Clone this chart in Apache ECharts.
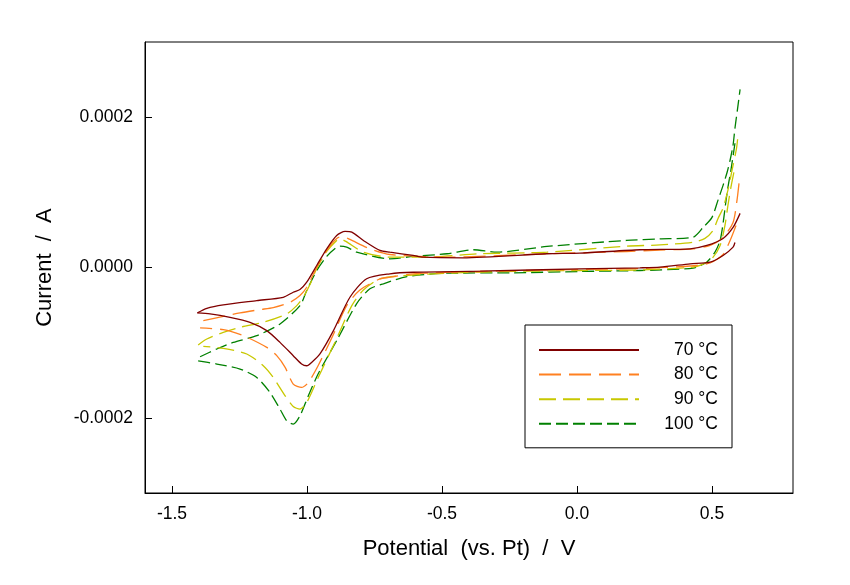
<!DOCTYPE html>
<html>
<head>
<meta charset="utf-8">
<script src="https://cdn.jsdelivr.net/npm/echarts@6/dist/echarts.min.js"></script>
<style>
html,body{margin:0;padding:0;background:#fff;}
#c{width:850px;height:585px;}
</style>
</head>
<body>
<div id="c"></div>
<script>
// Potential (V) and current (µA); forward (f) and reverse (r) sweeps
const pot70f = [-1.406,-1.371,-1.310,-1.186,-1.088,-1.051,-1.026,-1.001,-0.964,-0.927,-0.890,-0.859,-0.834,-0.791,-0.730,-0.693,-0.607,-0.570,-0.422,-0.111,0.011,0.233,0.419,0.481,0.541,0.578,0.604];
const cur70f = [-60.4,-54.3,-49.7,-44,-39.6,-32.9,-29.3,-19.6,2.7,24.9,42.7,48,47.1,36,22.7,20.4,16,13.7,12.9,18.3,19.1,23.6,24.9,29.3,38.7,53.3,72];
const pot70r = [0.585,0.578,0.541,0.493,0.419,0.307,0.233,0.011,-0.359,-0.607,-0.693,-0.779,-0.841,-0.902,-0.952,-0.983,-1.001,-1.020,-1.051,-1.100,-1.149,-1.211,-1.285,-1.359,-1.406];
const cur70r = [33.3,27.1,16,7.1,4.9,0.4,-0.4,-1.7,-4.9,-6.3,-8.4,-15,-39.6,-84,-115,-126.3,-130.7,-128.4,-117.3,-99.6,-84,-72.9,-66.3,-61.7,-60.4];

const pot80f = [-1.384,-1.310,-1.248,-1.174,-1.125,-1.063,-1.026,-1.001,-0.964,-0.927,-0.890,-0.867,-0.841,-0.767,-0.693,-0.481,-0.111,0.184,0.307,0.430,0.493,0.541,0.578,0.592,0.600];
const cur80f = [-70.7,-64.9,-60.4,-56,-53.3,-46.3,-37.3,-26.3,0,22.7,38.7,41.3,37.3,24.9,17.3,13.7,18.3,21.3,23.3,24.9,29.3,40,60,88,112];
const pot80r = [0.589,0.567,0.541,0.493,0.419,0.233,0.011,-0.359,-0.607,-0.693,-0.730,-0.804,-0.853,-0.906,-0.958,-0.995,-1.020,-1.051,-1.081,-1.112,-1.149,-1.236,-1.310,-1.396];
const cur80r = [56,36,17.3,6,2,-1.3,-2.7,-5.3,-8.4,-12.9,-15.1,-30,-50.7,-92,-130,-152.9,-159.6,-155.1,-132.9,-117.3,-106.3,-90.7,-82.7,-80.4];

const pot90f = [-1.403,-1.371,-1.310,-1.248,-1.162,-1.075,-1.038,-1.014,-0.989,-0.964,-0.927,-0.890,-0.878,-0.856,-0.791,-0.693,-0.570,-0.359,-0.111,0.184,0.307,0.430,0.474,0.504,0.522,0.541,0.559,0.578,0.591,0.597];
const cur90f = [-103.1,-95.1,-86.3,-79.6,-72.9,-61.7,-50.7,-39.6,-22.7,-1.3,21.3,36,38.3,34.7,20.4,13.7,13.7,18.3,20.4,28.4,30,33.7,38.7,49.3,65,79,103,136,159,178.3];
const pot90r = [0.581,0.570,0.559,0.548,0.530,0.500,0.456,0.419,0.233,0.011,-0.359,-0.607,-0.730,-0.791,-0.834,-0.896,-0.958,-1.001,-1.026,-1.051,-1.081,-1.125,-1.162,-1.223,-1.310,-1.384];
const cur90r = [126.7,106.7,82.7,56,29.3,12,2.7,0,-3.3,-4,-6,-10,-15.1,-30,-50.7,-99,-146,-179.6,-188.4,-184.9,-170.7,-146.3,-130.7,-115.1,-107.6,-104.9];

const pot100f = [-1.396,-1.334,-1.273,-1.186,-1.100,-1.026,-1.001,-0.964,-0.927,-0.896,-0.878,-0.853,-0.816,-0.693,-0.607,-0.481,-0.385,-0.296,-0.111,0.184,0.307,0.430,0.467,0.500,0.522,0.541,0.556,0.567,0.578,0.585,0.594,0.604];
const cur100f = [-118.7,-108.4,-99.6,-90.7,-75.1,-50.7,-30.7,-4,14.7,25.3,28.4,27.1,20.4,11.6,14.7,18.3,23.6,20.4,28,36,38,40.4,53.3,66.7,89.3,109.3,126.7,142.7,162.7,185.3,209.3,237];
const pot100r = [0.585,0.570,0.559,0.552,0.541,0.530,0.511,0.480,0.430,0.233,0.011,-0.237,-0.481,-0.630,-0.717,-0.767,-0.816,-0.887,-0.958,-0.995,-1.026,-1.051,-1.075,-1.100,-1.137,-1.186,-1.248,-1.334,-1.406];
const cur100r = [165.3,129.3,106.7,89.3,58.7,36,20.4,7.1,-0.7,-4,-5.3,-7.1,-7.6,-12,-21.7,-28.4,-48,-95.3,-141,-170.7,-197.3,-208.4,-204,-188.4,-166.3,-146.3,-135.1,-128.4,-124];

const legendNames = ['70 °C','80 °C','90 °C','100 °C'];
const xTicks = [-1.5,-1.0,-0.5,0.0,0.5];
const yTicks = [-0.0002,0,0.0002];

const uA = 1e-6;
function pts(p,c){ return p.map((v,i)=>[v, c[i]*uA]); }

const FONT = 'Liberation Sans, Arial, sans-serif';
const styles = {
  '70 °C':  {color:'#800000', type:'solid'},
  '80 °C':  {color:'#ff8020', type:[22,8]},
  '90 °C':  {color:'#c8c800', type:[17,7]},
  '100 °C': {color:'#008000', type:[12,5]}
};
const curves = [
  ['100 °C', pot100f, cur100f, pot100r, cur100r],
  ['90 °C', pot90f, cur90f, pot90r, cur90r],
  ['80 °C', pot80f, cur80f, pot80r, cur80r],
  ['70 °C', pot70f, cur70f, pot70r, cur70r]
];
const series = [];
curves.forEach(([name,pf,cf,pr,cr])=>{
  const st = styles[name];
  [[pf,cf],[pr,cr]].forEach(([p,c])=>{
    series.push({
      name, type:'line', data: pts(p,c), symbol:'none', showSymbol:false, smooth:0.25,
      color: st.color,
      lineStyle:{color:st.color, width:1.3, type:st.type},
      animation:false
    });
  });
});

const chart = echarts.init(document.getElementById('c'), null, {renderer:'canvas'});
chart.setOption({
  backgroundColor:'#fff',
  animation:false,
  grid:{left:145, right:57, top:42, bottom:92, show:true, borderColor:'#000', borderWidth:1, backgroundColor:'transparent'},
  xAxis:{
    type:'value', min:-1.6, max:0.8,
    name:'Potential  (vs. Pt)  /  V', nameLocation:'middle', nameGap:45,
    nameTextStyle:{fontFamily:FONT, fontSize:22, color:'#000'},
    axisLine:{show:true, onZero:false, lineStyle:{color:'#000', width:1}},
    axisTick:{show:true, inside:true, length:7, customValues:xTicks, lineStyle:{color:'#000'}},
    axisLabel:{customValues:xTicks, formatter:v=>Number(v).toFixed(1), fontFamily:FONT, fontSize:17.5, color:'#000', margin:12},
    splitLine:{show:false}
  },
  yAxis:{
    type:'value', min:-0.0003, max:0.0003,
    name:'Current  /  A', nameLocation:'middle', nameGap:89, nameRotate:90,
    nameTextStyle:{fontFamily:FONT, fontSize:22, color:'#000'},
    axisLine:{show:true, onZero:false, lineStyle:{color:'#000', width:1}},
    axisTick:{show:true, inside:true, length:7, customValues:yTicks, lineStyle:{color:'#000'}},
    axisLabel:{customValues:yTicks, formatter:v=>Number(v).toFixed(4), fontFamily:FONT, fontSize:17.5, color:'#000', margin:12},
    splitLine:{show:false}
  },
  legend:{
    data:legendNames, orient:'vertical', left:525, top:325,
    padding:[16,14,15,13], itemWidth:100, itemHeight:20, itemGap:6.6,
    backgroundColor:'#fff', borderColor:'#000', borderWidth:1, borderRadius:0,
    selectedMode:false,
    itemStyle:{opacity:0},
    formatter:n=>'{t|'+n+'}',
    textStyle:{fontFamily:FONT, fontSize:17.5, color:'#000',
      rich:{t:{width:74, align:'right', fontFamily:FONT, fontSize:17.5, lineHeight:20, color:'#000'}}}
  },
  series
});
</script>
</body>
</html>
